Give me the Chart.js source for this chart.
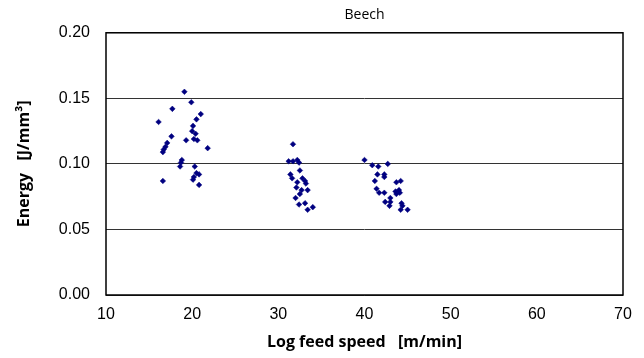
<!DOCTYPE html>
<html lang="en">
<head>
    <meta charset="UTF-8">
    <title>Beech</title>
    <style>
        html, body { margin: 0; padding: 0; background: #fff; }
        #wrap { width: 644px; height: 358px; }
    </style>
</head>
<body>
<div id="wrap"><canvas id="scatterChart"></canvas></div>

<script src="https://cdn.jsdelivr.net/npm/chart.js@4/dist/chart.umd.min.js"></script>
<script>
// log feed speed [m/min]
const feedSpeed = [
    19.1, 19.9, 17.7, 21.0, 20.5, 16.1, 20.1, 20.0, 17.6, 20.4,
    19.3, 20.2, 20.6, 17.1, 16.9, 16.7, 16.6, 21.8, 18.8, 18.7,
    18.6, 20.3, 20.5, 20.8, 20.2, 20.1, 16.6, 20.8,
    31.7, 31.2, 31.7, 32.2, 32.4, 32.5, 31.4, 31.6, 32.8, 32.2,
    33.1, 33.2, 32.1, 32.7, 33.4, 32.5, 32.0, 32.4, 33.1, 34.0, 33.4,
    40.0, 40.9, 41.6, 42.7, 41.5, 42.3, 42.3, 41.2, 44.2, 43.7,
    41.4, 41.7, 42.3, 44.0, 43.6, 44.1, 43.7, 43.0, 42.4, 43.0,
    42.9, 44.3, 44.4, 44.2, 45.0
]
// energy [J/mm3]
const energy = [
    0.155, 0.147, 0.142, 0.138, 0.134, 0.132, 0.129, 0.125, 0.121, 0.123,
    0.118, 0.119, 0.118, 0.116, 0.113, 0.111, 0.109, 0.112, 0.103, 0.101,
    0.098, 0.098, 0.093, 0.092, 0.090, 0.088, 0.087, 0.084,
    0.115, 0.102, 0.102, 0.103, 0.101, 0.095, 0.092, 0.089, 0.089, 0.086,
    0.087, 0.085, 0.082, 0.080, 0.080, 0.077, 0.074, 0.069, 0.070, 0.067, 0.065,
    0.103, 0.099, 0.098, 0.100, 0.092, 0.092, 0.090, 0.087, 0.087, 0.086,
    0.081, 0.078, 0.078, 0.080, 0.079, 0.078, 0.077, 0.074, 0.071, 0.071,
    0.068, 0.070, 0.068, 0.065, 0.065
]
const xTicks = [10, 20, 30, 40, 50, 60, 70]
const yTicks = [0.00, 0.05, 0.10, 0.15, 0.20]

let points = []
feedSpeed.forEach(function(s, i) {
    points.push({x: s, y: energy[i]})
})

// frame round the plot area
const plotFrame = {
    id: 'plotFrame',
    afterDraw(chart) {
        const a = chart.chartArea
        const ctx = chart.ctx
        ctx.save()
        ctx.strokeStyle = '#000'
        ctx.lineWidth = 1.5
        ctx.strokeRect(a.left, a.top, a.right - a.left, a.bottom - a.top)
        ctx.restore()
    }
}

let sc = document.getElementById('scatterChart')
new Chart(sc, {
    type: 'scatter',
    data: {
        datasets: [{
            label: 'Beech',
            data: points,
            pointStyle: 'rectRot',
            pointRadius: 2.8,
            pointBorderWidth: 0.5,
            backgroundColor: '#000080',
            borderColor: '#000080'
        }]
    },
    options: {
        responsive: true,
        maintainAspectRatio: false,
        animation: false,
        layout: { padding: { left: 0, right: 21, top: 0, bottom: 0 } },
        plugins: {
            legend: { display: false },
            tooltip: { enabled: false },
            title: {
                display: true,
                fullSize: false,
                text: 'Beech',
                color: '#000',
                font: { family: 'Open Sans', size: 14, weight: 'normal' },
                padding: { top: 7, bottom: 9 }
            }
        },
        scales: {
            x: {
                type: 'linear',
                min: 10,
                max: 70,
                afterBuildTicks(scale) {
                    scale.ticks = xTicks.map(v => ({value: v}))
                },
                afterFit(scale) { scale.height = 63 },
                grid: { display: false, drawTicks: false },
                border: { display: false },
                ticks: {
                    color: '#000',
                    padding: 10,
                    font: { family: 'Liberation Sans', size: 16 }
                },
                title: {
                    display: true,
                    text: 'Log feed speed   [m/min]',
                    color: '#000',
                    font: { family: 'Open Sans', size: 16, weight: 'bold' },
                    padding: { top: 0, bottom: 6 }
                }
            },
            y: {
                min: 0,
                max: 0.2,
                afterBuildTicks(scale) {
                    scale.ticks = yTicks.map(v => ({value: v}))
                },
                afterFit(scale) { scale.width = 106 },
                grid: { color: '#333', lineWidth: 1, drawTicks: false },
                border: { display: false },
                ticks: {
                    color: '#000',
                    padding: 16,
                    font: { family: 'Liberation Sans', size: 16 },
                    callback: v => v.toFixed(2)
                },
                title: {
                    display: true,
                    text: 'Energy   [J/mm³]',
                    color: '#000',
                    font: { family: 'Open Sans', size: 16, weight: 'bold' },
                    padding: { top: 15, bottom: 0 }
                }
            }
        }
    },
    plugins: [plotFrame]
})
</script>
</body>
</html>
